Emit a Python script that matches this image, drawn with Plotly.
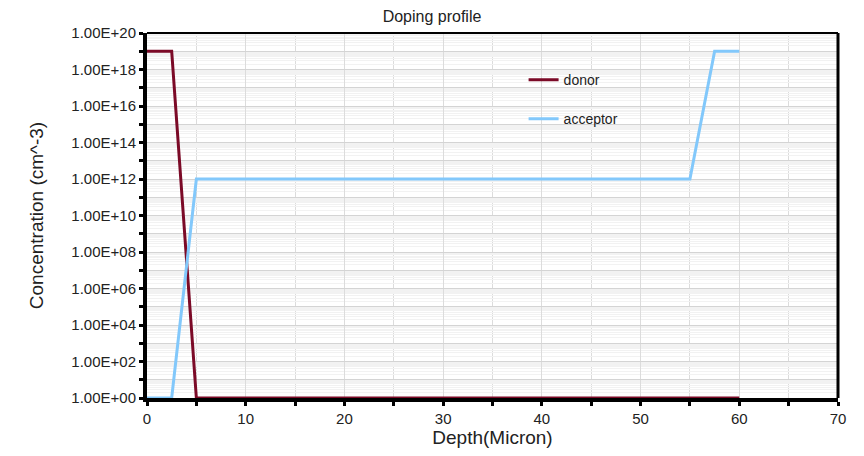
import plotly.graph_objects as go

depth_donor = [0, 2.5, 5, 60]
conc_donor = [1e19, 1e19, 1, 1]
depth_acceptor = [0, 2.5, 5, 55, 57.5, 60]
conc_acceptor = [1, 1, 1e12, 1e12, 1e19, 1e19]

y_tickvals = [10.0 ** k for k in range(0, 21)]
y_ticktext = [("1.00E+%02d" % k) if k % 2 == 0 else "" for k in range(0, 21)]
x_tickvals = [0, 10, 20, 30, 40, 50, 60, 70]

fig = go.Figure()
fig.add_trace(go.Scatter(x=depth_donor, y=conc_donor, mode="lines", name="donor",
                         line=dict(color="#7b0a27", width=3), legendgroup="a"))
fig.add_trace(go.Scatter(x=depth_acceptor, y=conc_acceptor, mode="lines", name="acceptor",
                         line=dict(color="#82c8fb", width=3), legendgroup="b"))

font = "Liberation Sans, Arial, sans-serif"
fig.update_layout(
    width=864, height=456,
    margin=dict(l=147, r=26, t=33, b=58),
    paper_bgcolor="white", plot_bgcolor="white",
    font=dict(family=font, color="#222", size=12),
    title=dict(text="Doping profile", x=0.5, xanchor="center", y=0.965, yanchor="middle",
               font=dict(size=16, color="#222")),
    showlegend=True,
    legend=dict(x=0.545, y=0.915, xanchor="left", yanchor="top", bgcolor="rgba(0,0,0,0)",
                tracegroupgap=18, font=dict(size=14, color="#222")),
    xaxis=dict(range=[0, 70], tickvals=x_tickvals, showgrid=True, gridcolor="#dcdcdc", gridwidth=1,
               showline=True, linecolor="black", linewidth=4, ticks="outside", ticklen=4, tickwidth=3,
               tickcolor="black", zeroline=False,
               minor=dict(dtick=5, showgrid=True, gridcolor="#dcdcdc", ticks="outside", ticklen=4,
                          tickwidth=3, tickcolor="black"),
               title=dict(text="Depth(Micron)", font=dict(size=19, color="#222"), standoff=4),
               tickfont=dict(size=15, color="#222")),
    yaxis=dict(type="log", range=[0, 20], tickvals=y_tickvals, ticktext=y_ticktext,
               showgrid=True, gridcolor="#d4d4d4", gridwidth=1,
               showline=True, linecolor="black", linewidth=4, ticks="outside", ticklen=4, tickwidth=3,
               tickcolor="black", zeroline=False,
               minor=dict(dtick="D1", showgrid=True, gridcolor="#f2f2f2", ticks=""),
               title=dict(text="Concentration (cm^-3)", font=dict(size=19, color="#222"), standoff=24),
               tickfont=dict(size=15, color="#222")),
)
fig.add_shape(type="line", xref="paper", yref="paper", x0=0, x1=1, y0=1, y1=1,
              line=dict(color="black", width=2))
fig.add_shape(type="line", xref="paper", yref="paper", x0=1, x1=1, y0=0, y1=1,
              line=dict(color="black", width=3))
fig.write_html("out.html")
